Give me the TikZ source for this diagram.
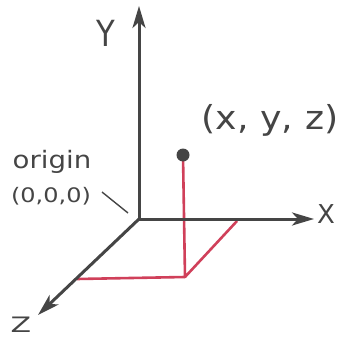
\documentclass[tikz,border=0pt]{standalone}
\usepackage{fontspec}
\usepackage{graphicx}
\setmainfont{DejaVu Sans}
\usetikzlibrary{arrows.meta}
\definecolor{axisgray}{HTML}{454545}
\definecolor{pinkred}{HTML}{D0405A}
\tikzset{
  axis/.style={draw=axisgray, line width=3pt, -{Stealth[length=22pt,width=13pt,inset=6pt]}},
  proj/.style={draw=pinkred, line width=2.6pt, line join=round},
  lbl/.style={text=axisgray, inner sep=0pt, font=\fontsize{#1}{#1}\selectfont},
  lbl/.default=20
}
\begin{document}
\begin{tikzpicture}[x=1pt,y=-1pt]
\useasboundingbox (0,0) rectangle (342,337);
\coordinate (O) at (139,219);
\coordinate (Yt) at (139,6);
\coordinate (Xt) at (314,219);
\coordinate (Zt) at (38,315);
\coordinate (P) at (183,155);
\coordinate (F) at (185,277);
\coordinate (PX) at (237,221);
\coordinate (PZ) at (77,279);
\coordinate (L1) at (102,192);
\coordinate (L2) at (128,213);
% projections
\draw[proj] (P) -- (F) -- (PX);
\draw[proj] (F) -- (PZ);
% axes
\draw[axis] (O) -- (Yt);
\draw[axis] (O) -- (Xt);
\draw[axis] (O) -- (Zt);
\fill[axisgray] (P) circle (6.5pt);
\draw[axisgray, line width=1.4pt] (L1) -- (L2);
% labels
\node[lbl=36] (ly) at (106,33) {\scalebox{0.85}[1]{Y}};
\node[lbl=26] (lx) at (326,214) {X};
\node[lbl=25] (lz) at (21,325) {\scalebox{1.2}[0.85]{Z}};
\node[lbl=33] (lp) at (270,120) {\scalebox{1.1}[1]{(x, y, z)}};
\node[lbl=24] (lo) at (52,162) {\scalebox{1.15}[1]{origin}};
\node[lbl=20] (l0) at (51,196) {\scalebox{1.2}[1]{(0,0,0)}};
\end{tikzpicture}
\end{document}
